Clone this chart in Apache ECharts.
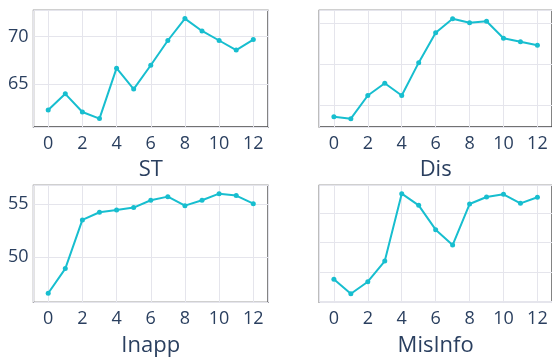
<!DOCTYPE html>
<html>
<head>
<meta charset="utf-8">
<script src="https://cdn.jsdelivr.net/npm/echarts@6/dist/echarts.min.js"></script>
<style>html,body{margin:0;padding:0;background:#fff;}#c{width:552px;height:358px;}</style>
</head>
<body>
<div id="c"></div>
<script>
const steps = [0,1,2,3,4,5,6,7,8,9,10,11,12];
const titles = ['ST','Dis','Inapp','MisInfo'];
const stValues = [62.3,64.0,62.1,61.4,66.7,64.5,67.0,69.6,71.9,70.6,69.6,68.6,69.7];
const disValues = [58.56,58.32,61.17,62.67,61.17,65.2,68.88,70.6,70.1,70.28,68.19,67.78,67.33];
const inappValues = [46.6,48.93,53.52,54.25,54.47,54.69,55.38,55.72,54.87,55.38,56.0,55.82,55.06];
const misinfoValues = [48.76,46.30,48.35,51.87,63.34,61.36,57.21,54.59,61.58,62.78,63.24,61.70,62.73];
const yRanges = [[60.52,72.77],[57.30,71.63],[45.75,56.79],[44.84,64.77]];
const ySplits = [2,3,2,4];
const xRange = [-0.86,12.86];

const allValues = [stValues, disValues, inappValues, misinfoValues];
const grids = [
  {left:33.5, top:10.3, width:234.5, height:116.7},
  {left:319.3, top:10.3, width:235, height:116.7},
  {left:33.5, top:185.3, width:234.5, height:117},
  {left:319.3, top:185.3, width:235, height:117}
];
const font = '"Open Sans", "DejaVu Sans", sans-serif';
const textColor = '#2a3f5f';
const gridColor = '#e5e5ec';
const lineColor = '#17becf';

const option = {
  animation:false,
  backgroundColor:'#fff',
  grid: grids.map(g => Object.assign({show:true, borderColor:'#444', borderWidth:1.3, backgroundColor:'transparent', containLabel:false}, g)),
  xAxis: titles.map((t,i) => ({
    type:'value', gridIndex:i, min:xRange[0], max:xRange[1], splitNumber:6,
    name:t, nameLocation:'middle', nameGap:32,
    nameTextStyle:{fontFamily:font, fontSize:22, color:textColor},
    axisLine:{show:false}, axisTick:{show:false},
    axisLabel:{fontFamily:font, fontSize:18, color:textColor, margin:8, showMinLabel:false, showMaxLabel:false},
    splitLine:{show:true, lineStyle:{color:gridColor, width:1}}
  })),
  yAxis: titles.map((t,i) => ({
    type:'value', gridIndex:i, min:yRanges[i][0], max:yRanges[i][1], splitNumber:ySplits[i],
    axisLine:{show:false}, axisTick:{show:false},
    axisLabel:{show: i % 2 === 0, fontFamily:font, fontSize:18, color:textColor, margin:5, showMinLabel:false, showMaxLabel:false},
    splitLine:{show:true, lineStyle:{color:gridColor, width:1}}
  })),
  series: allValues.map((vals,i) => ({
    type:'line', xAxisIndex:i, yAxisIndex:i,
    data: steps.map((s,k) => [s, vals[k]]),
    symbol:'circle', symbolSize:5, showSymbol:true,
    lineStyle:{color:lineColor, width:2},
    itemStyle:{color:lineColor}
  }))
};
const chart = echarts.init(document.getElementById('c'), null, {renderer:'canvas'});
chart.setOption(option);
</script>
</body>
</html>
